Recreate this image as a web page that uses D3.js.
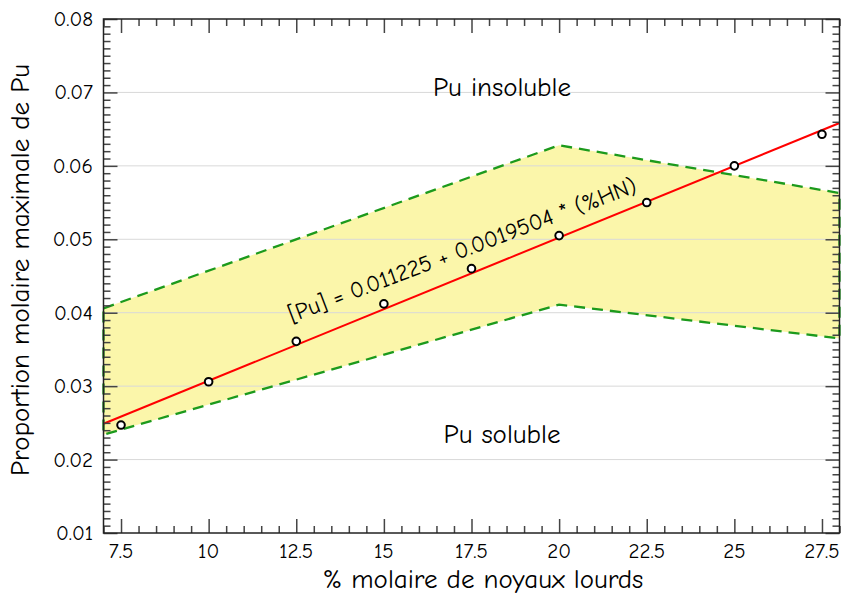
<!DOCTYPE html>
<html><head><meta charset="utf-8">
<script src="https://cdn.jsdelivr.net/npm/d3@7/dist/d3.min.js"></script>
<style>
html,body{margin:0;padding:0;background:#fff;}
text{font-family:"Comic Sans MS","Comic Neue","Noto Sans",sans-serif;fill:#000;}
</style></head>
<body>
<script>
// Data
const pointX = [7.5, 10, 12.5, 15, 17.5, 20, 22.5, 25, 27.5];
const pointY = [0.0247, 0.0306, 0.0361, 0.0412, 0.0460, 0.0505, 0.0550, 0.0600, 0.0643];
const fitIntercept = 0.011225;
const fitSlope = 0.0019504;
const upperX = [7, 20, 28];
const upperY = [0.0406, 0.0628, 0.0563];
const lowerX = [7, 20, 28];
const lowerY = [0.0234, 0.0411, 0.0365];
const xTicks = [7.5, 10, 12.5, 15, 17.5, 20, 22.5, 25, 27.5];
const xTickLabels = ["7.5", "10", "12.5", "15", "17.5", "20", "22.5", "25", "27.5"];
const yTicks = [0.01, 0.02, 0.03, 0.04, 0.05, 0.06, 0.07, 0.08];
const yTickLabels = ["0.01", "0.02", "0.03", "0.04", "0.05", "0.06", "0.07", "0.08"];
const xTitle = "% molaire de noyaux lourds";
const yTitle = "Proportion molaire maximale de Pu";
const equationText = "[Pu] = 0.011225 + 0.0019504 * (%HN)";
const labelTop = "Pu insoluble";
const labelBottom = "Pu soluble";

const W = 846, H = 599;
const L = 103.5, R = 839.5, T = 19, B = 533;
const svg = d3.select("body").append("svg").attr("width", W).attr("height", H);
const x = d3.scaleLinear().domain([7, 28]).range([L, R]);
const y = d3.scaleLinear().domain([0.01, 0.08]).range([B, T]);

// band
const bandPts = upperX.map((v, i) => [v, upperY[i]])
  .concat(lowerX.map((v, i) => [v, lowerY[i]]).reverse());
svg.append("path")
  .attr("d", d3.line().x(d => x(d[0])).y(d => y(d[1]))(bandPts) + "Z")
  .attr("fill", "#fbf6aa").attr("stroke", "none");

// gridlines
svg.append("g").selectAll("line").data(yTicks.slice(1, -1)).join("line")
  .attr("x1", L).attr("x2", R).attr("y1", d => y(d)).attr("y2", d => y(d))
  .attr("stroke", "#d9d9d9").attr("stroke-width", 1);

// band outline dashed
svg.append("path")
  .attr("d", d3.line().x(d => x(d[0])).y(d => y(d[1]))(bandPts) + "Z")
  .attr("fill", "none").attr("stroke", "#1c9a1c").attr("stroke-width", 2.3)
  .attr("stroke-dasharray", "11,7");

// regression line
const fitX = [7, 28];
svg.append("path")
  .attr("d", d3.line().x(d => x(d)).y(d => y(fitIntercept + fitSlope * d))(fitX))
  .attr("stroke", "#ff0000").attr("stroke-width", 2).attr("fill", "none");

// points
svg.append("g").selectAll("circle").data(pointX).join("circle")
  .attr("cx", d => x(d)).attr("cy", (d, i) => y(pointY[i])).attr("r", 3.8)
  .attr("fill", "#fff").attr("stroke", "#000").attr("stroke-width", 2);

// axes (ticks inward)
const minorX = d3.range(7, 28.01, 0.5).filter(v => !xTicks.includes(v));
const minorY = d3.range(10, 80.1, 1).map(v => v / 1000).filter(v => !yTicks.some(t => Math.abs(t - v) < 1e-9));
const tickColor = "#444";
const bottomAx = d3.axisTop(x).tickValues(xTicks).tickSize(14).tickFormat("");
const bottomMinor = d3.axisTop(x).tickValues(minorX).tickSize(7).tickFormat("");
const topAx = d3.axisBottom(x).tickValues(xTicks).tickSize(14).tickFormat("");
const topMinor = d3.axisBottom(x).tickValues(minorX).tickSize(7).tickFormat("");
const leftAx = d3.axisRight(y).tickValues(yTicks).tickSize(14).tickFormat("");
const leftMinor = d3.axisRight(y).tickValues(minorY).tickSize(7).tickFormat("");
const rightAx = d3.axisLeft(y).tickValues(yTicks).tickSize(14).tickFormat("");
const rightMinor = d3.axisLeft(y).tickValues(minorY).tickSize(7).tickFormat("");
function styleAx(g) { g.select(".domain").remove(); g.selectAll("line").attr("stroke", tickColor).attr("stroke-width", 1.5); }
svg.append("g").attr("transform", `translate(0,${B})`).call(bottomAx).call(styleAx);
svg.append("g").attr("transform", `translate(0,${B})`).call(bottomMinor).call(styleAx);
svg.append("g").attr("transform", `translate(0,${T})`).call(topAx).call(styleAx);
svg.append("g").attr("transform", `translate(0,${T})`).call(topMinor).call(styleAx);
svg.append("g").attr("transform", `translate(${L},0)`).call(leftAx).call(styleAx);
svg.append("g").attr("transform", `translate(${L},0)`).call(leftMinor).call(styleAx);
svg.append("g").attr("transform", `translate(${R},0)`).call(rightAx).call(styleAx);
svg.append("g").attr("transform", `translate(${R},0)`).call(rightMinor).call(styleAx);

// frame
svg.append("rect").attr("x", L).attr("y", T).attr("width", R - L).attr("height", B - T)
  .attr("fill", "none").attr("stroke", "#222").attr("stroke-width", 1.5);

// tick labels
svg.append("g").selectAll("text").data(xTicks).join("text")
  .attr("x", d => x(d)).attr("y", 558).attr("text-anchor", "middle")
  .attr("font-size", 21).text((d, i) => xTickLabels[i]);
svg.append("g").selectAll("text").data(yTicks).join("text")
  .attr("x", 93).attr("y", d => y(d) + 7).attr("text-anchor", "end")
  .attr("font-size", 21).text((d, i) => yTickLabels[i]);

// titles
svg.append("text").attr("x", 483).attr("y", 588).attr("text-anchor", "middle")
  .attr("font-size", 27).text(xTitle);
svg.append("text").attr("transform", "translate(29,270) rotate(-90)").attr("text-anchor", "middle")
  .attr("font-size", 27).text(yTitle);

// annotations
svg.append("text").attr("x", 502).attr("y", 96).attr("text-anchor", "middle")
  .attr("font-size", 27).text(labelTop);
svg.append("text").attr("x", 502).attr("y", 443).attr("text-anchor", "middle")
  .attr("font-size", 27).text(labelBottom);
svg.append("text").attr("transform", "translate(465,257) rotate(-20.7)").attr("text-anchor", "middle")
  .attr("font-size", 23).text(equationText);
</script>
</body></html>
